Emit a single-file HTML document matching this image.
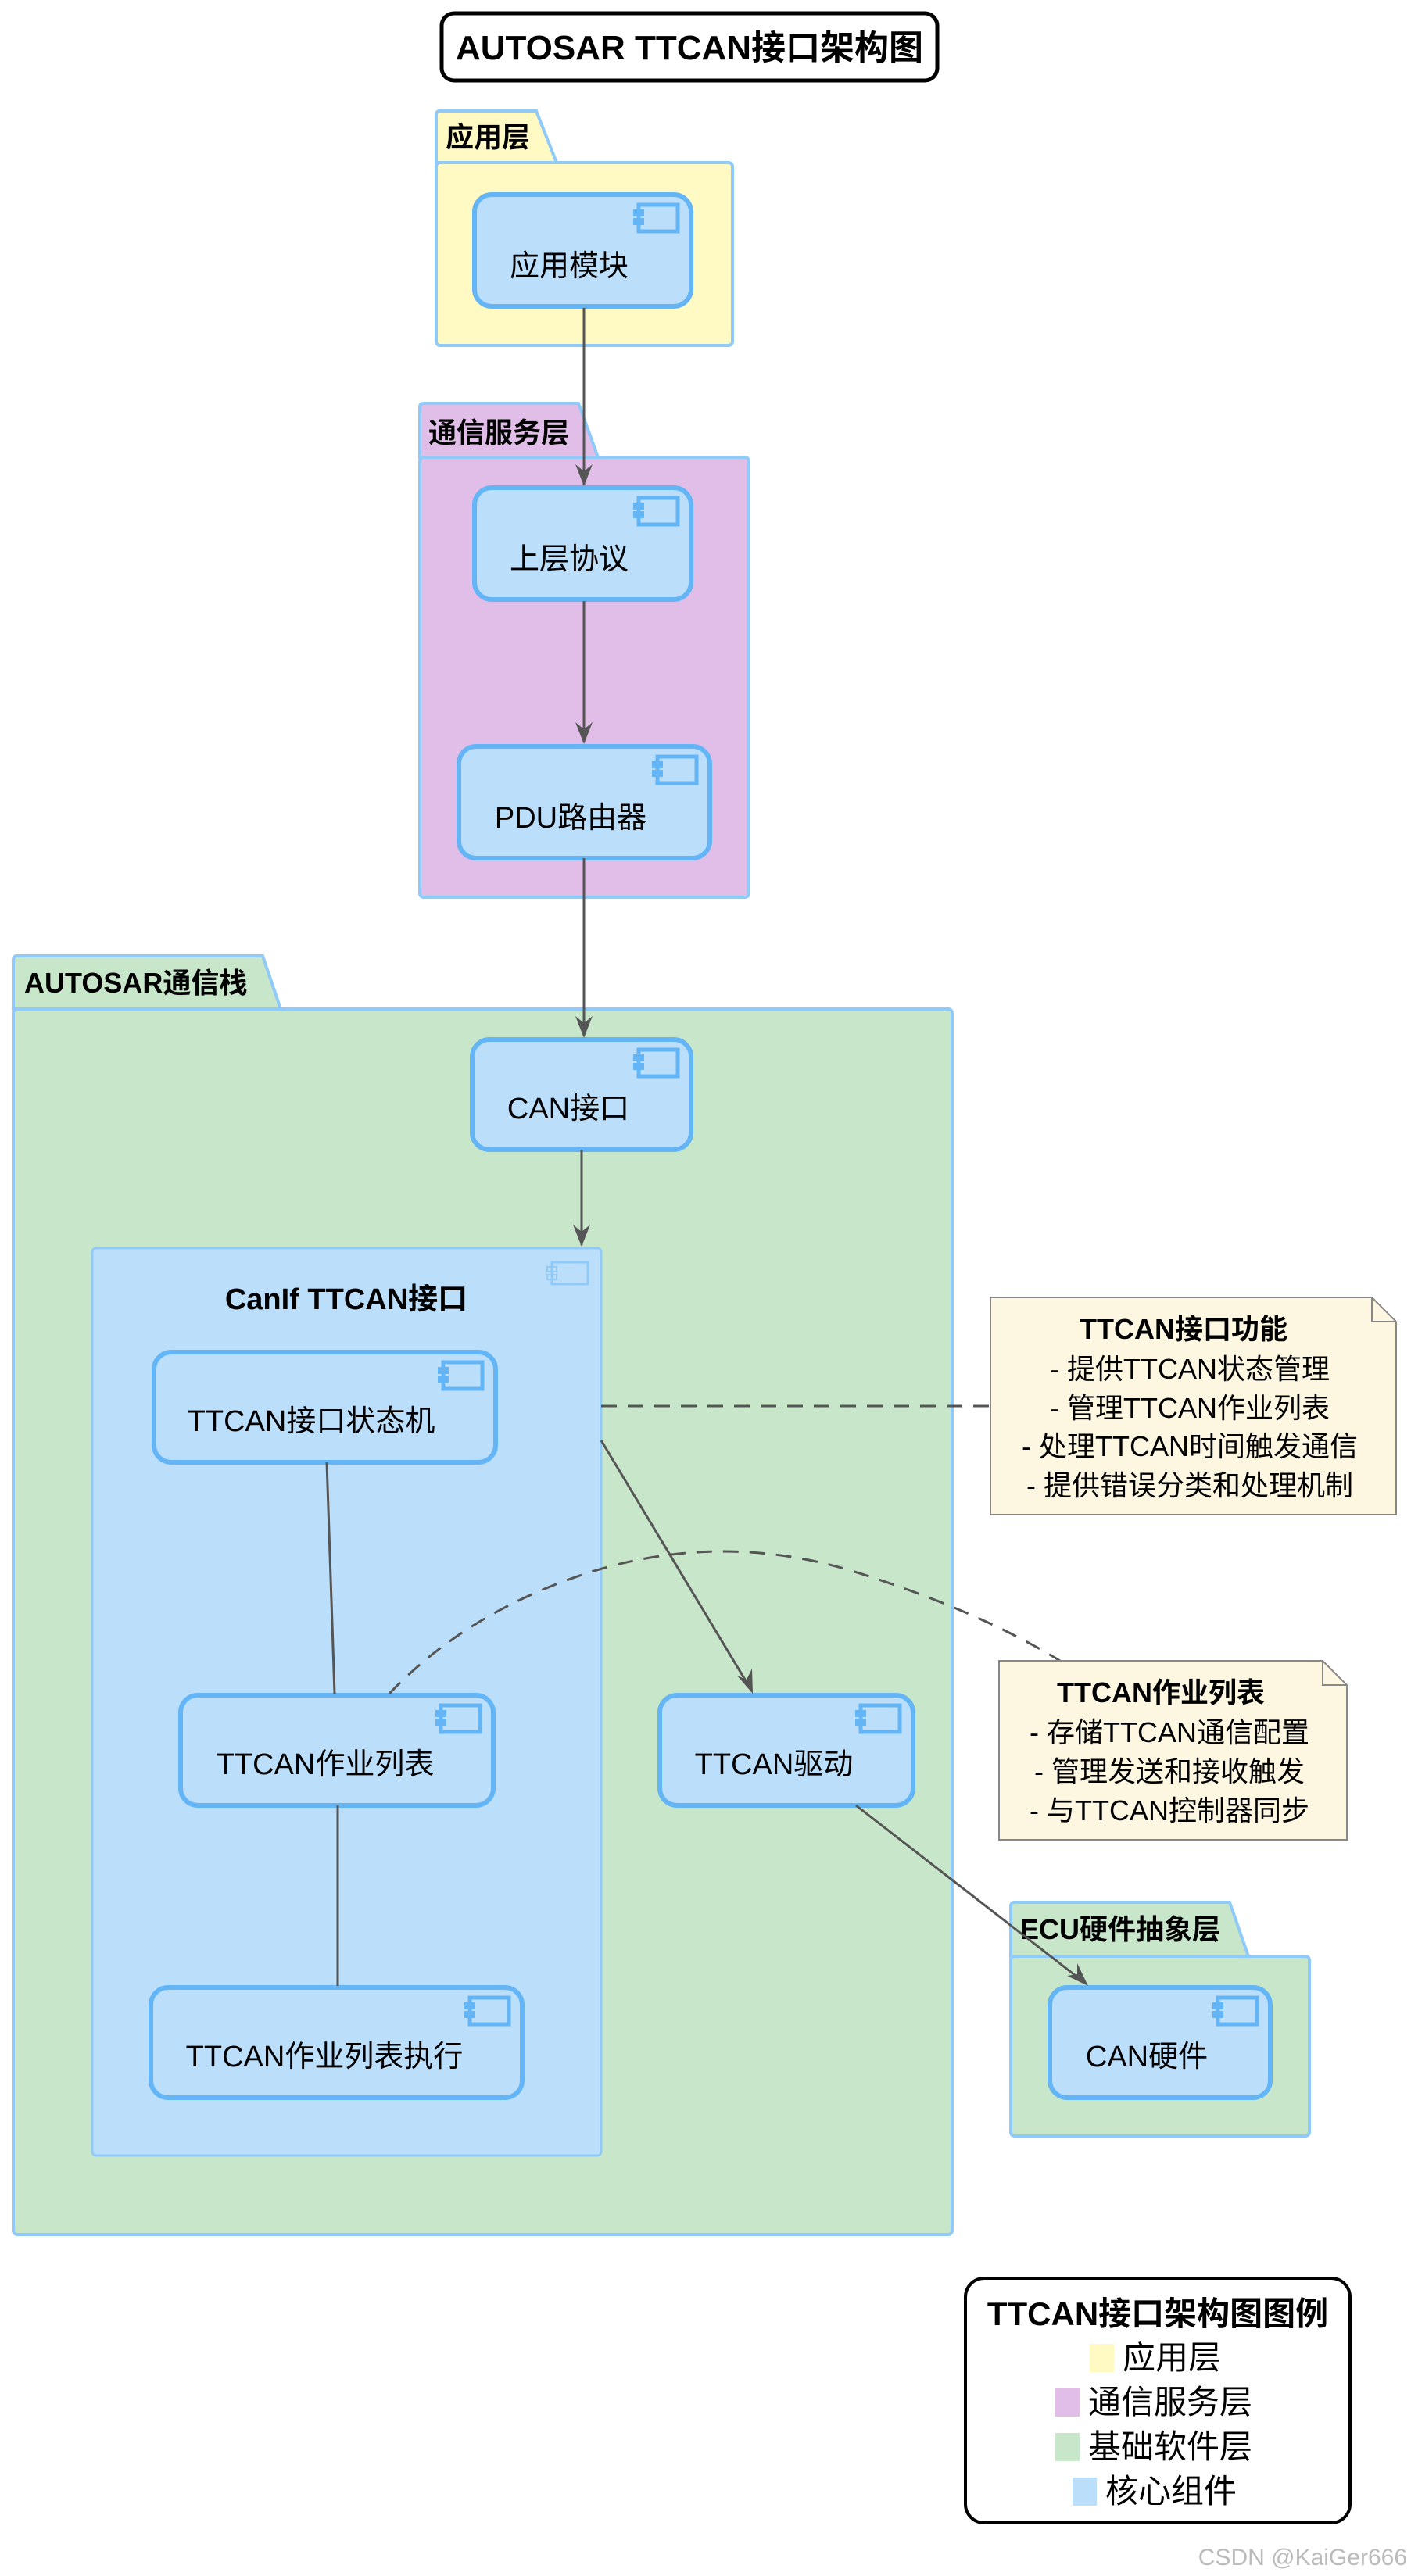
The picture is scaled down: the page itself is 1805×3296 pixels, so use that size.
<!DOCTYPE html>
<html><head><meta charset="utf-8"><style>
html,body{margin:0;padding:0;background:#fff;}
svg{display:block;}
text{font-family:"Liberation Sans","Noto Sans CJK SC",sans-serif;fill:#000;}
.b{font-weight:bold;}
</style></head><body>
<svg width="1805" height="3296" viewBox="0 0 1805 3296" xmlns="http://www.w3.org/2000/svg">
<defs>
<g id="ic">
<rect x="0" y="0" width="50" height="34" fill="#bbdefb" stroke="#64b5f6" stroke-width="5"/>
<rect x="-7" y="6" width="14" height="9" fill="#64b5f6"/>
<rect x="-7" y="17" width="14" height="9" fill="#64b5f6"/>
</g>
</defs>

<!-- Title -->
<rect x="565" y="17" width="634" height="86" rx="16" fill="#fff" stroke="#000" stroke-width="5"/>
<text x="882" y="76" font-size="44" class="b" text-anchor="middle">AUTOSAR TTCAN接口架构图</text>

<!-- 应用层 -->
<path d="M558,208 L558,147 Q558,142 563,142 L686,142 L712,208 Z" fill="#fff9c4" stroke="#90caf9" stroke-width="4"/>
<rect x="558" y="208" width="379" height="234" rx="5" fill="#fff9c4" stroke="#90caf9" stroke-width="4"/>
<text x="570" y="188" font-size="36" class="b">应用层</text>

<!-- 通信服务层 -->
<path d="M537,585 L537,521 Q537,516 542,516 L740,516 L765,585 Z" fill="#e1bee7" stroke="#90caf9" stroke-width="4"/>
<rect x="537" y="585" width="421" height="563" rx="5" fill="#e1bee7" stroke="#90caf9" stroke-width="4"/>
<text x="548" y="566" font-size="36" class="b">通信服务层</text>

<!-- AUTOSAR通信栈 -->
<path d="M17,1291 L17,1228 Q17,1223 22,1223 L336,1223 L359,1291 Z" fill="#c8e6c9" stroke="#90caf9" stroke-width="4"/>
<rect x="17" y="1291" width="1201" height="1568" rx="5" fill="#c8e6c9" stroke="#90caf9" stroke-width="4"/>
<text x="31" y="1270" font-size="36" class="b">AUTOSAR通信栈</text>

<!-- ECU硬件抽象层 -->
<path d="M1293,2503 L1293,2439 Q1293,2434 1298,2434 L1573,2434 L1597,2503 Z" fill="#c8e6c9" stroke="#90caf9" stroke-width="4"/>
<rect x="1293" y="2503" width="382" height="230" rx="5" fill="#c8e6c9" stroke="#90caf9" stroke-width="4"/>
<text x="1305" y="2481" font-size="36" class="b">ECU硬件抽象层</text>

<!-- CanIf container -->
<rect x="118" y="1597" width="651" height="1161" rx="5" fill="#bbdefb" stroke="#90caf9" stroke-width="3"/>
<text x="443" y="1675" font-size="38" class="b" text-anchor="middle">CanIf TTCAN接口</text>
<rect x="706" y="1615" width="46" height="28" fill="none" stroke="#90caf9" stroke-width="3"/>
<rect x="700" y="1621" width="12" height="6" fill="none" stroke="#90caf9" stroke-width="2"/>
<rect x="700" y="1631" width="12" height="6" fill="none" stroke="#90caf9" stroke-width="2"/>

<!-- Components -->
<g>
<rect x="607" y="249" width="277" height="143" rx="22" fill="#bbdefb" stroke="#64b5f6" stroke-width="6"/>
<use href="#ic" x="817" y="262"/>
<text x="728" y="353" font-size="38" text-anchor="middle">应用模块</text>

<rect x="607" y="624" width="277" height="143" rx="22" fill="#bbdefb" stroke="#64b5f6" stroke-width="6"/>
<use href="#ic" x="817" y="637"/>
<text x="728" y="728" font-size="38" text-anchor="middle">上层协议</text>

<rect x="587" y="955" width="321" height="143" rx="22" fill="#bbdefb" stroke="#64b5f6" stroke-width="6"/>
<use href="#ic" x="841" y="968"/>
<text x="730" y="1059" font-size="38" text-anchor="middle">PDU路由器</text>

<rect x="604" y="1330" width="280" height="141" rx="22" fill="#bbdefb" stroke="#64b5f6" stroke-width="6"/>
<use href="#ic" x="817" y="1343"/>
<text x="727" y="1431" font-size="38" text-anchor="middle">CAN接口</text>

<rect x="197" y="1730" width="437" height="141" rx="22" fill="#bbdefb" stroke="#64b5f6" stroke-width="6"/>
<use href="#ic" x="567" y="1743"/>
<text x="398" y="1831" font-size="38" text-anchor="middle">TTCAN接口状态机</text>

<rect x="231" y="2169" width="400" height="141" rx="22" fill="#bbdefb" stroke="#64b5f6" stroke-width="6"/>
<use href="#ic" x="564" y="2182"/>
<text x="416" y="2270" font-size="38" text-anchor="middle">TTCAN作业列表</text>

<rect x="193" y="2543" width="475" height="141" rx="22" fill="#bbdefb" stroke="#64b5f6" stroke-width="6"/>
<use href="#ic" x="601" y="2556"/>
<text x="415" y="2644" font-size="38" text-anchor="middle">TTCAN作业列表执行</text>

<rect x="844" y="2169" width="324" height="141" rx="22" fill="#bbdefb" stroke="#64b5f6" stroke-width="6"/>
<use href="#ic" x="1101" y="2182"/>
<text x="990" y="2270" font-size="38" text-anchor="middle">TTCAN驱动</text>

<rect x="1343" y="2543" width="282" height="141" rx="22" fill="#bbdefb" stroke="#64b5f6" stroke-width="6"/>
<use href="#ic" x="1558" y="2556"/>
<text x="1467" y="2644" font-size="38" text-anchor="middle">CAN硬件</text>
</g>

<!-- Connectors -->
<g stroke="#555" stroke-width="3" fill="none">
<line x1="747" y1="394" x2="747" y2="620"/>
<line x1="747" y1="769" x2="747" y2="950"/>
<line x1="747" y1="1098" x2="747" y2="1325"/>
<line x1="744" y1="1471" x2="744" y2="1593"/>
<line x1="418" y1="1871" x2="428" y2="2167"/>
<line x1="432" y1="2310" x2="432" y2="2541"/>
<line x1="769" y1="1843" x2="962" y2="2164"/>
<line x1="1095" y1="2310" x2="1389" y2="2538"/>
<line x1="769" y1="1799" x2="1267" y2="1799" stroke-dasharray="20,14"/>
<path d="M498,2167 Q600,2060 760,2010 Q925,1960 1090,2010 Q1250,2060 1356,2125" stroke-dasharray="20,14"/>
</g>
<g fill="#555">
<polygon points="747,622 736,594 747,603 758,594"/>
<polygon points="747,952 736,924 747,933 758,924"/>
<polygon points="747,1328 736,1300 747,1309 758,1300"/>
<polygon points="744,1595 733,1567 744,1576 755,1567"/>
<polygon points="963,2167 943,2144 955,2149 962,2135"/>
<polygon points="1392,2541 1365,2528 1378,2526 1378,2512"/>
</g>

<!-- Notes -->
<path d="M1267,1660 L1755,1660 L1786,1691 L1786,1938 L1267,1938 Z" fill="#fdf6e0" stroke="#888" stroke-width="2"/>
<path d="M1755,1660 L1755,1691 L1786,1691" fill="none" stroke="#888" stroke-width="2"/>
<text x="1514" y="1713" font-size="36" class="b" text-anchor="middle">TTCAN接口功能</text>
<text x="1522" y="1764" font-size="36" text-anchor="middle">- 提供TTCAN状态管理</text>
<text x="1522" y="1814" font-size="36" text-anchor="middle">- 管理TTCAN作业列表</text>
<text x="1522" y="1863" font-size="36" text-anchor="middle">- 处理TTCAN时间触发通信</text>
<text x="1522" y="1913" font-size="36" text-anchor="middle">- 提供错误分类和处理机制</text>

<path d="M1278,2125 L1692,2125 L1723,2156 L1723,2354 L1278,2354 Z" fill="#fdf6e0" stroke="#888" stroke-width="2"/>
<path d="M1692,2125 L1692,2156 L1723,2156" fill="none" stroke="#888" stroke-width="2"/>
<text x="1485" y="2178" font-size="36" class="b" text-anchor="middle">TTCAN作业列表</text>
<text x="1496" y="2229" font-size="36" text-anchor="middle">- 存储TTCAN通信配置</text>
<text x="1496" y="2279" font-size="36" text-anchor="middle">- 管理发送和接收触发</text>
<text x="1496" y="2329" font-size="36" text-anchor="middle">- 与TTCAN控制器同步</text>

<!-- Legend -->
<rect x="1235" y="2915" width="492" height="313" rx="24" fill="#fff" stroke="#000" stroke-width="4"/>
<text x="1481" y="2975" font-size="42" class="b" text-anchor="middle">TTCAN接口架构图图例</text>
<rect x="1394" y="2999" width="31" height="36" fill="#fff9c4"/>
<text x="1436" y="3031" font-size="42">应用层</text>
<rect x="1350" y="3056" width="31" height="36" fill="#e1bee7"/>
<text x="1392" y="3088" font-size="42">通信服务层</text>
<rect x="1350" y="3113" width="31" height="36" fill="#c8e6c9"/>
<text x="1392" y="3145" font-size="42">基础软件层</text>
<rect x="1372" y="3170" width="31" height="36" fill="#bbdefb"/>
<text x="1414" y="3202" font-size="42">核心组件</text>

<text x="1800" y="3282" font-size="30" style="fill:#bbb" text-anchor="end">CSDN @KaiGer666</text>
</svg>
</body></html>
